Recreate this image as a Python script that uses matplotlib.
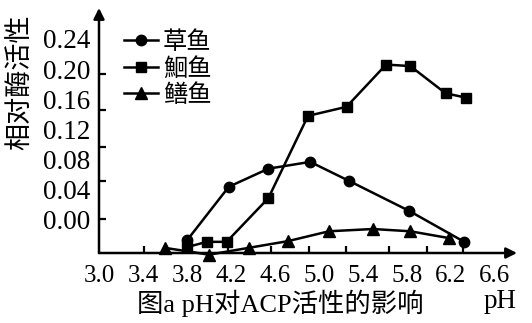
import matplotlib
matplotlib.use("Agg")
import matplotlib.pyplot as plt

# ---- data ----
grass_ph = [3.80, 4.18, 4.54, 4.92, 5.27, 5.82, 6.32]
grass_val = [-0.027, 0.044, 0.068, 0.077, 0.052, 0.012, -0.029]

hui_ph = [3.80, 3.98, 4.16, 4.54, 4.90, 5.25, 5.61, 5.83, 6.15, 6.34]
hui_val = [-0.036, -0.029, -0.029, 0.029, 0.138, 0.150, 0.206, 0.204, 0.168, 0.162]

eel_ph = [3.60, 4.00, 4.36, 4.72, 5.09, 5.49, 5.83, 6.18]
eel_val = [-0.037, -0.046, -0.037, -0.028, -0.015, -0.012, -0.015, -0.024]

series_names = ["草鱼", "鮰鱼", "鳝鱼"]
x_tick_labels = ["3.0", "3.4", "3.8", "4.2", "4.6", "5.0", "5.4", "5.8", "6.2", "6.6"]
y_tick_labels = ["0.00", "0.04", "0.08", "0.12", "0.16", "0.20", "0.24"]

# tick-mark positions as drawn in the original (slightly off the label grid)
x_tick_marks = [3.407, 3.787, 4.176, 4.565, 4.908, 5.243, 5.632, 5.985, 6.310]
y_tick_marks = [0.240, 0.194, 0.146, 0.097, 0.052, 0.001]

serif = ["Liberation Serif", "Noto Sans CJK SC"]
cjk = ["Noto Sans CJK SC", "Liberation Serif"]
plt.rcParams["font.family"] = serif

W, H = 532, 323
fig = plt.figure(figsize=(W / 100, H / 100), dpi=100)
ax = fig.add_axes([99 / W, (H - 253) / H, 418 / W, 245 / H])

ax.plot(grass_ph, grass_val, "-o", color="black", lw=1.8, ms=7.5, clip_on=False, label=series_names[0])
ax.plot(hui_ph, hui_val, "-s", color="black", lw=1.8, ms=7.5, clip_on=False, label=series_names[1])
ax.plot(eel_ph, eel_val, "-^", color="black", lw=1.8, ms=8.5, clip_on=False, label=series_names[2])

ax.set_xlim(3.018, 6.80)
ax.set_ylim(-0.0438, 0.281)

for s in ax.spines.values():
    s.set_visible(False)

arrow = dict(arrowstyle="-|>", lw=1.8, color="black", mutation_scale=16, shrinkA=0, shrinkB=0)
ax.annotate("", xy=(0, 1), xytext=(0, 0), xycoords="axes fraction", arrowprops=arrow)
ax.annotate("", xy=(1, 0), xytext=(0, 0), xycoords="axes fraction", arrowprops=arrow)

xt = [float(t) for t in x_tick_labels]
yt = [float(t) for t in y_tick_labels]
ax.set_xticks(xt)
ax.set_xticklabels(x_tick_labels)
ax.set_yticks(yt)
ax.set_yticklabels(y_tick_labels)
ax.tick_params(axis="x", which="major", length=0, pad=9, labelsize=18)
ax.tick_params(axis="y", which="major", length=0, pad=6, labelsize=19.5)
ax.set_xticks(x_tick_marks, minor=True)
ax.set_yticks(y_tick_marks, minor=True)
ax.tick_params(axis="both", which="minor", direction="in", length=5, width=1.6)

leg = ax.legend(loc="upper left", bbox_to_anchor=(124 / W, 1 - 29 / H),
                bbox_transform=fig.transFigure, frameon=False,
                handlelength=1.4, handletextpad=0.2, labelspacing=0.02,
                borderpad=0, borderaxespad=0, prop={"family": cjk, "size": 17.5})

fig.text(21 / W, 1 - 82 / H, "相对酶活性", rotation=90, ha="center", va="center",
         fontsize=19.5, family=cjk)
fig.text(280 / W, 1 - 303 / H, "图a pH对ACP活性的影响", ha="center", va="center",
         fontsize=19, family=serif)
fig.text(500 / W, 1 - 301 / H, "pH", ha="center", va="center", fontsize=19.5, family=serif)

fig.savefig("out.png", dpi=100)
